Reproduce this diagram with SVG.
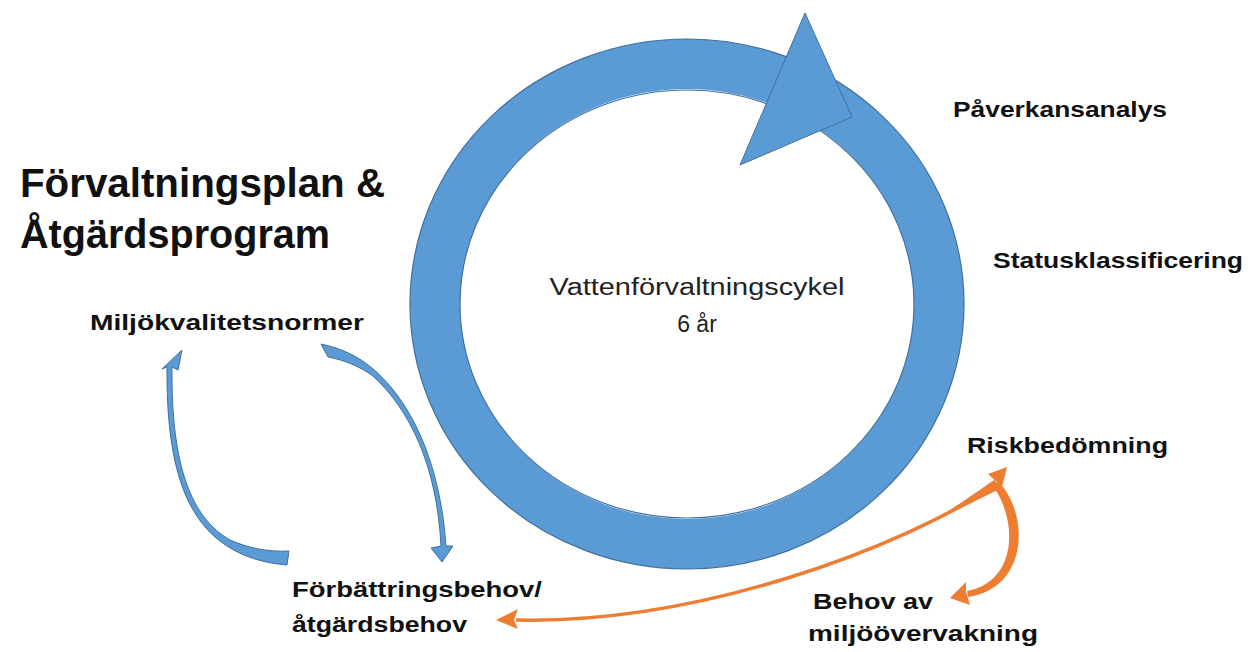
<svg xmlns="http://www.w3.org/2000/svg" width="1250" height="652" viewBox="0 0 1250 652">
<style>
.lbl{font-family:"Liberation Sans","Noto Sans",sans-serif;font-weight:bold;font-size:22px;fill:#111}
.ttl{font-family:"Liberation Sans","Noto Sans",sans-serif;font-weight:bold;font-size:40px;fill:#111}
.cyc{font-family:"Liberation Sans","Noto Sans",sans-serif;font-size:23px;fill:#222}
.blue{fill:#5B9BD5;stroke:#41719C;stroke-width:1;stroke-linejoin:round}
.org{fill:#ED7D31;stroke:none}
.oshaft{fill:none;stroke:#ED7D31;stroke-width:3.5}
</style>
<rect width="1250" height="652" fill="#fff"/>
<g id="cycle">
  <ellipse cx="687" cy="304" rx="252" ry="240" fill="none" stroke="#5B9BD5" stroke-width="50"/>
  <ellipse cx="687" cy="304" rx="277" ry="265" fill="none" stroke="#41719C" stroke-width="1.2"/>
  <ellipse cx="687" cy="304" rx="227" ry="214" fill="none" stroke="#41719C" stroke-width="1.2"/>
  <polygon class="blue" points="805,13 852,117 740,165"/>
  <text class="cyc" x="697" y="295" text-anchor="middle" textLength="295" lengthAdjust="spacingAndGlyphs">Vattenförvaltningscykel</text>
  <text class="cyc" x="697" y="332" text-anchor="middle">6 år</text>
</g>
<g id="title">
  <text class="ttl" x="20" y="197" textLength="365" lengthAdjust="spacingAndGlyphs">Förvaltningsplan &amp;</text>
  <text class="ttl" x="20" y="248" textLength="310" lengthAdjust="spacingAndGlyphs">Åtgärdsprogram</text>
</g>
<g id="miljokvalitetsnormer"><text class="lbl" x="90" y="330" textLength="274" lengthAdjust="spacingAndGlyphs">Miljökvalitetsnormer</text></g>
<g id="paverkansanalys"><text class="lbl" x="953" y="117" textLength="214" lengthAdjust="spacingAndGlyphs">Påverkansanalys</text></g>
<g id="statusklassificering"><text class="lbl" x="993" y="268" textLength="250" lengthAdjust="spacingAndGlyphs">Statusklassificering</text></g>
<g id="riskbedomning"><text class="lbl" x="967" y="453" textLength="201" lengthAdjust="spacingAndGlyphs">Riskbedömning</text></g>
<g id="behov-av-miljoovervakning">
  <text class="lbl" x="813" y="609" textLength="120" lengthAdjust="spacingAndGlyphs">Behov av</text>
  <text class="lbl" x="808" y="641" textLength="230" lengthAdjust="spacingAndGlyphs">miljöövervakning</text>
</g>
<g id="forbattringsbehov">
  <text class="lbl" x="292" y="597" textLength="250" lengthAdjust="spacingAndGlyphs">Förbättringsbehov/</text>
  <text class="lbl" x="292" y="632" textLength="175" lengthAdjust="spacingAndGlyphs">åtgärdsbehov</text>
</g>
<g id="connectors">
  <!-- left blue curved arrow -->
  <path class="blue" d="M287,565 C262,563 242,556 227,546 C188,521 166,470 167,367 L162,369 L182,350 L178,370 L172,367 C171,468 192,518 230,540 C248,548 268,552 289,551 Z"/>
  <!-- right blue curved arrow -->
  <path class="blue" d="M321,344 C340,348 358,356 372,368 C410,400 440,460 446,546 L453,546 L442,562 L431,548 L441,546 C437,466 410,410 373,376 C359,366 344,360 328,357 Z"/>
  <!-- orange long arrow -->
  <path class="oshaft" d="M998,484 C900,548 700,624 516,620"/>
  <path class="org" d="M994,480 C970,497 950,510 935,520 C955,512 980,498 1002,488 Z"/>
  <polygon class="org" points="496,620 518,609 514,620 518,629"/>
  <polygon class="org" points="1007,467 988,474 1002,487"/>
  <!-- orange right arrow -->
  <path class="org" d="M999,482 C1030,516 1028,588 968,597 L967,591 C1016,582 1018,524 995,489 Z"/>
  <polygon class="org" points="950,598 966,582 966,592 970,605"/>
</g>
</svg>
